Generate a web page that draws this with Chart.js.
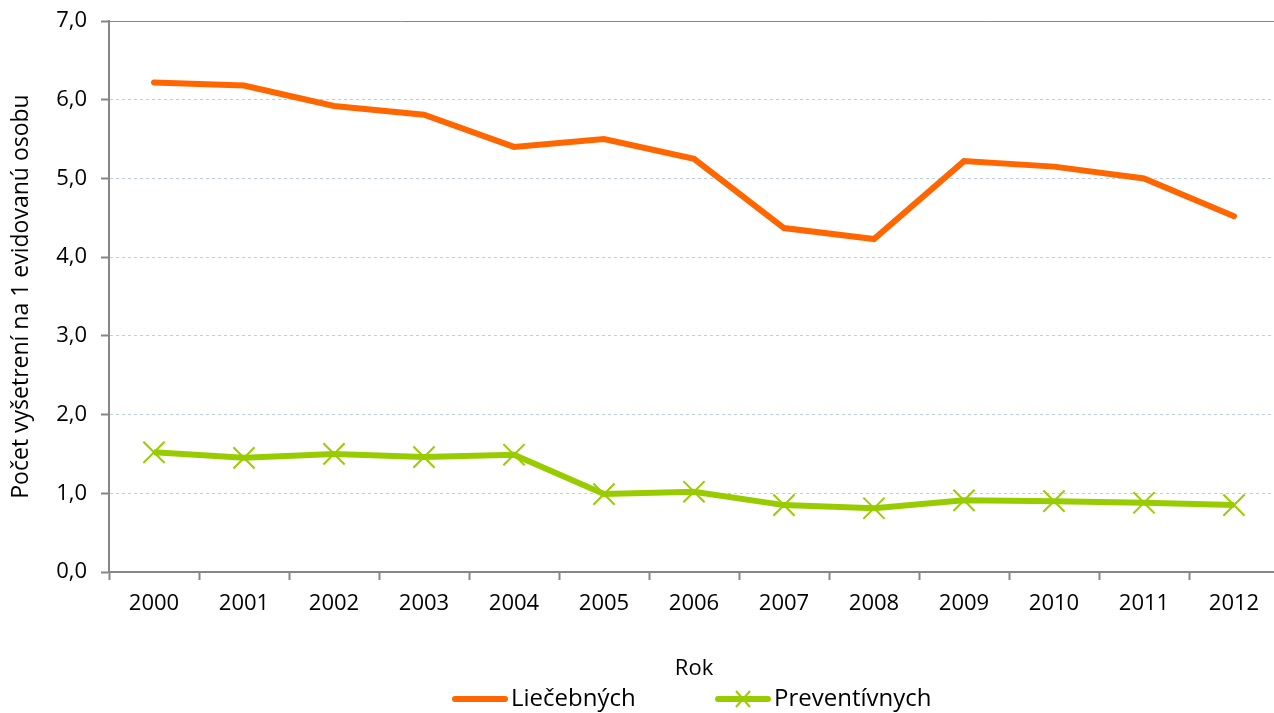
<!DOCTYPE html>
<html>
<head>
<meta charset="utf-8">
<script src="https://cdn.jsdelivr.net/npm/chart.js@4.4.0/dist/chart.umd.min.js"></script>
<style>
  html, body { margin: 0; padding: 0; background: #fff; overflow: hidden; }
  #wrap { width: 1280px; height: 713px; }
</style>
</head>
<body>
<div id="wrap"><canvas id="myChart" width="1280" height="713"></canvas></div>
<script>
const years = ['2000', '2001', '2002', '2003', '2004', '2005', '2006', '2007', '2008', '2009', '2010', '2011', '2012'];
const liecebnych = [6.22, 6.18, 5.92, 5.81, 5.40, 5.50, 5.25, 4.37, 4.23, 5.22, 5.15, 5.00, 4.52];
const preventivnych = [1.52, 1.45, 1.50, 1.46, 1.49, 0.99, 1.02, 0.85, 0.81, 0.91, 0.90, 0.88, 0.85];
const seriesNames = ['Liečebných', 'Preventívnych'];
const yTitle = 'Počet vyšetrení na 1 evidovanú osobu';
const xTitle = 'Rok';

const FONT = 'Open Sans';
const orange = '#ff6600';
const green = '#99cc00';
const axisGray = '#868686';

// top frame line + custom legend under the axis title
const extras = {
  id: 'extras',
  afterDraw(chart) {
    const ctx = chart.ctx;
    const a = chart.chartArea;
    ctx.save();
    ctx.strokeStyle = axisGray;
    ctx.lineWidth = 1;
    ctx.beginPath();
    ctx.moveTo(a.left, a.top + 0.5);
    ctx.lineTo(a.right, a.top + 0.5);
    ctx.stroke();

    ctx.font = '24px "' + FONT + '"';
    ctx.textBaseline = 'middle';
    ctx.fillStyle = '#000';
    const y = 699;
    const items = [
      { x: 452, color: orange, cross: false, label: seriesNames[0] },
      { x: 715, color: green, cross: true, label: seriesNames[1] }
    ];
    items.forEach(it => {
      ctx.strokeStyle = it.color;
      ctx.lineWidth = 6;
      ctx.lineCap = 'round';
      ctx.beginPath();
      ctx.moveTo(it.x + 3, y);
      ctx.lineTo(it.x + 53, y);
      ctx.stroke();
      if (it.cross) {
        ctx.lineWidth = 2;
        ctx.lineCap = 'butt';
        ctx.beginPath();
        ctx.moveTo(it.x + 21, y - 8); ctx.lineTo(it.x + 35, y + 8);
        ctx.moveTo(it.x + 35, y - 8); ctx.lineTo(it.x + 21, y + 8);
        ctx.stroke();
      }
      ctx.fillText(it.label, it.x + 59, y);
    });
    ctx.restore();
  }
};

new Chart(document.getElementById('myChart').getContext('2d'), {
  type: 'line',
  data: {
    labels: years,
    datasets: [{
      label: seriesNames[0],
      data: liecebnych,
      borderColor: orange,
      backgroundColor: orange,
      borderWidth: 6,
      borderCapStyle: 'round',
      pointRadius: 0,
      tension: 0
    }, {
      label: seriesNames[1],
      data: preventivnych,
      borderColor: green,
      backgroundColor: green,
      borderWidth: 6,
      pointStyle: 'crossRot',
      pointRadius: 15,
      pointBorderWidth: 2,
      pointBorderColor: green,
      tension: 0
    }]
  },
  options: {
    responsive: false,
    animation: false,
    layout: { autoPadding: false, padding: { top: 21, right: 1, left: 0, bottom: 31 } },
    plugins: {
      legend: { display: false },
      tooltip: { enabled: false }
    },
    scales: {
      x: {
        offset: true,
        grid: {
          offset: true,
          drawOnChartArea: false,
          tickLength: 8,
          tickColor: axisGray,
          tickWidth: 2
        },
        border: { color: axisGray, width: 2 },
        ticks: {
          color: '#000',
          padding: 11,
          maxRotation: 0,
          font: { family: FONT, size: 22 }
        },
        title: {
          display: true,
          text: xTitle,
          color: '#000',
          font: { family: FONT, size: 22 },
          padding: { top: 32, bottom: 0 }
        },
        afterFit(scale) {
          scale.height = 110;
          scale.paddingLeft = 0;
          scale.paddingRight = 0;
        }
      },
      y: {
        min: 0,
        max: 7,
        ticks: {
          stepSize: 1,
          color: '#000',
          padding: 14,
          font: { family: FONT, size: 22 },
          callback: v => v.toFixed(1).replace('.', ',')
        },
        grid: {
          color: '#b9cde5',
          tickColor: axisGray,
          tickLength: 8,
          tickWidth: 2,
          tickBorderDash: []
        },
        border: { color: axisGray, width: 2, dash: [3, 3] },
        title: {
          display: true,
          text: yTitle,
          color: '#000',
          font: { family: FONT, size: 23 },
          padding: { top: 8, bottom: 8 }
        },
        afterFit(scale) {
          scale.width = 109;
          scale.paddingTop = 0;
          scale.paddingBottom = 0;
        }
      }
    }
  },
  plugins: [extras]
});
</script>
</body>
</html>
